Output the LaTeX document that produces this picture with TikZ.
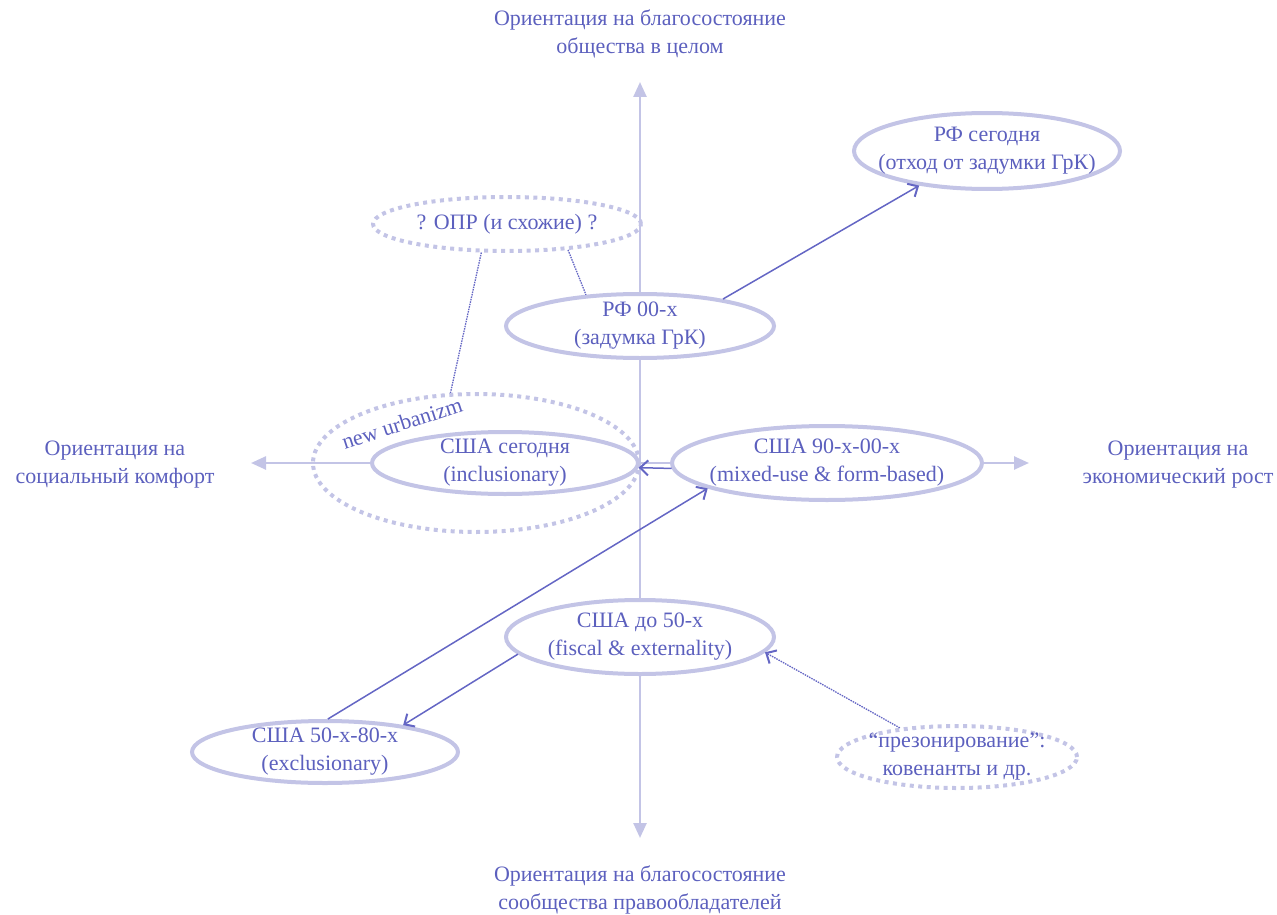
\documentclass[tikz,border=0pt]{standalone}
\usepackage{fontspec}
\setmainfont{Liberation Serif}
\usetikzlibrary{shapes.geometric,arrows.meta}
\definecolor{lightc}{RGB}{195,196,230}
\definecolor{textc}{RGB}{92,96,190}
\definecolor{darkc}{RGB}{100,102,196}
\tikzset{
  every node/.style={font=\fontsize{22}{28}\selectfont, text=textc},
  ell/.style={ellipse, draw=lightc, fill=white, line width=4pt, inner sep=0pt},
  dotell/.style={ellipse, draw=lightc, line width=4pt, dash pattern=on 4pt off 4.5pt, inner sep=0pt},
  txt/.style={align=center, inner sep=0pt},
  axis/.style={draw=lightc, line width=2.5pt, -{Triangle[length=15pt,width=13pt]}},
  conn/.style={draw=darkc, line width=1.5pt, -{Straight Barb[length=8pt,width=15pt,line width=2pt]}},
  dconn/.style={draw=darkc, line width=1.3pt, dash pattern=on 1.5pt off 1pt},
}
\begin{document}
\begin{tikzpicture}[x=1pt,y=-1pt]
\useasboundingbox (0,0) rectangle (1277,915);
% axes
\coordinate (ctr) at (640,463);
\coordinate (atop) at (640,82);
\coordinate (abot) at (640,838);
\coordinate (aleft) at (251,463);
\coordinate (aright) at (1029,463);
\draw[axis] (ctr) -- (atop);
\draw[axis] (ctr) -- (abot);
\draw[axis] (ctr) -- (aleft);
\draw[axis] (ctr) -- (aright);
% axis labels
\node[txt] (ltop) at (640,34) {Ориентация на благосостояние\\общества в целом};
\node[txt] (lbot) at (640,890) {Ориентация на благосостояние\\сообщества правообладателей};
\node[txt] (lleft) at (115,465) {Ориентация на\\социальный комфорт};
\node[txt] (lright) at (1178,465) {Ориентация на\\экономический рост};
% dotted ellipses
\node[dotell, minimum width=268pt, minimum height=54pt] (opr) at (507,224) {};
\node[txt] (oprt) at (opr) {? ОПР (и схожие) ?};
\node[dotell, minimum width=326pt, minimum height=138pt] (nu) at (476,463) {};
\node[txt, rotate=18] (nut) at (402,423) {new urbanizm};
\node[dotell, minimum width=240pt, minimum height=62pt] (prez) at (957,757) {};
\node[txt] (prezt) at (prez) {“презонирование”:\\ковенанты и др.};
% solid ellipses
\node[ell, minimum width=266pt, minimum height=76pt] (rft) at (987,151) {};
\node[txt] (rftt) at (rft) {РФ сегодня\\(отход от задумки ГрК)};
\node[ell, minimum width=268pt, minimum height=64pt] (r00) at (640,326) {};
\node[txt] (r00t) at (r00) {РФ 00-х\\(задумка ГрК)};
\node[ell, minimum width=266pt, minimum height=62pt] (ust) at (505,463) {};
\node[txt] (ustt) at (ust) {США сегодня\\(inclusionary)};
\node[ell, minimum width=310pt, minimum height=74pt] (us90) at (827,463) {};
\node[txt] (us90t) at (us90) {США 90-х-00-х\\(mixed-use \& form-based)};
\node[ell, minimum width=268pt, minimum height=74pt] (us50) at (640,637) {};
\node[txt] (us50t) at (us50) {США до 50-х\\(fiscal \& externality)};
\node[ell, minimum width=266pt, minimum height=62pt] (us58) at (325,752) {};
\node[txt] (us58t) at (us58) {США 50-х-80-х\\(exclusionary)};
% connectors
\draw[conn] (r00.18) -- (rft.207);
\draw[conn] (us90.182) -- (ust.358);
\draw[conn] (us58.85) -- (us90.192);
\draw[conn] (us50.188) -- (us58.19);
\draw[dconn, -{Straight Barb[length=8pt,width=15pt,line width=2pt]}] (prez.153) -- (us50.353);
\draw[dconn] (opr.337) -- (r00.150);
\draw[dconn] (opr.228) -- (nu.110);
\end{tikzpicture}
\end{document}
